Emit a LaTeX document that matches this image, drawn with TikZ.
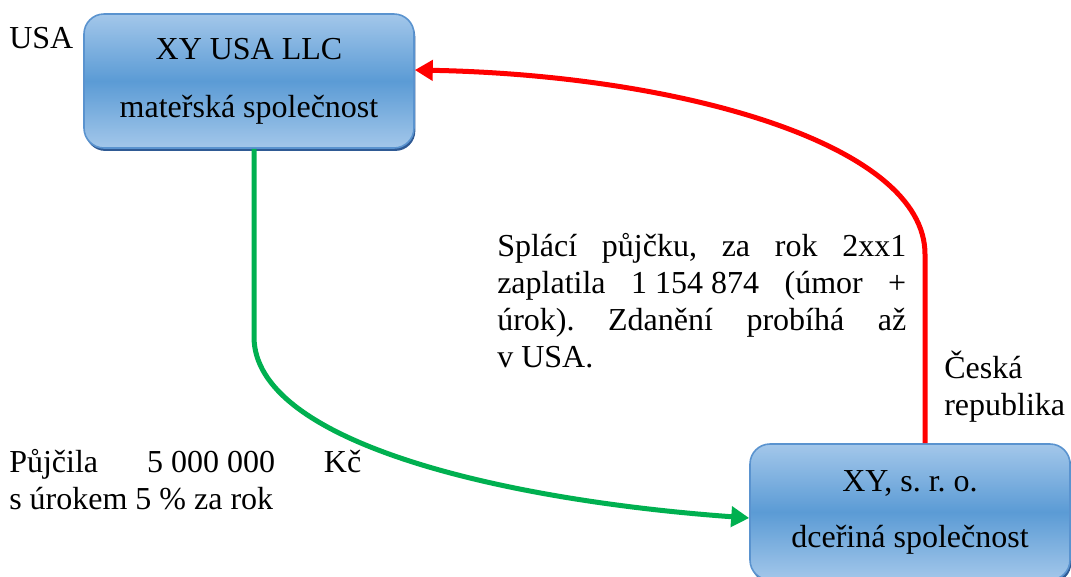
\documentclass[tikz,border=0pt]{standalone}
\usepackage{fontspec}
\setmainfont{Liberation Serif}
\frenchspacing
\usetikzlibrary{arrows.meta,shadows}

\definecolor{boxlight}{HTML}{A3C7EA}
\definecolor{boxmid}{HTML}{5B9BD5}
\definecolor{boxedge}{HTML}{5A93CF}
\definecolor{boxshadow}{HTML}{2F5A94}
\definecolor{loangreen}{HTML}{00B050}
\definecolor{payred}{HTML}{FF0000}

\tikzset{
  company/.style={
    rounded corners=15pt, draw=boxedge, line width=1.2pt,
    top color=boxlight, bottom color=boxlight, middle color=boxmid,
    drop shadow={shadow xshift=1pt, shadow yshift=-2.2pt, fill=boxshadow, opacity=1},
    align=center, inner sep=0pt,
    font=\fontsize{24}{27.75}\selectfont
  },
  caption/.style={inner sep=0pt, font=\fontsize{24}{27.75}\selectfont},
  flow/.style={line width=3.75pt, -{Triangle[length=13.5pt,width=15pt]}}
}

\begin{document}
\begin{tikzpicture}[x=0.75pt,y=-0.75pt]
  \useasboundingbox (0,0) rectangle (1071,576);

  % the two companies
  \node[company, minimum width=247.5pt, minimum height=100.5pt] (parent) at (249,81)
    {\raisebox{-2pt}{XY USA LLC}\\[15.75pt]\raisebox{-2pt}{mateřská společnost}};
  \node[company, minimum width=240pt, minimum height=102pt] (child) at (910,512)
    {XY, s. r. o.\\[14.25pt]dceřiná společnost};

  % countries
  \node[caption, anchor=base west] (usa) at (9,48) {USA};
  \node[caption, anchor=north west, text width=100pt, align=left] (cz) at (944,351)
    {Česká\\republika};

  % loan description
  \node[caption, anchor=north west, text width=264pt, align=justify] (loan) at (9,449)
    {Půjčila \hbox{5 000 000} Kč\linebreak s úrokem 5 \% za rok};

  % repayment description
  \node[caption, anchor=north west, text width=306.75pt, align=justify] (repay) at (497,233)
    {Splácí půjčku, za rok 2xx1\linebreak zaplatila \hbox{1 154 874} (úmor +\linebreak
     úrok). Zdanění probíhá až\linebreak v USA.};

  % loan: parent -> subsidiary
  \draw[flow, loangreen] ([xshift=3.75pt]parent.south) -- ++(0,188)
    .. controls ++(0,105) and (500,500) .. ([yshift=-4.5pt]child.west);

  % repayment: subsidiary -> parent
  \draw[flow, payred] ([xshift=11.25pt]child.north) -- ++(0,-189)
    .. controls ++(0,-110) and (680,75) .. ([yshift=8.25pt]parent.east);
\end{tikzpicture}
\end{document}
